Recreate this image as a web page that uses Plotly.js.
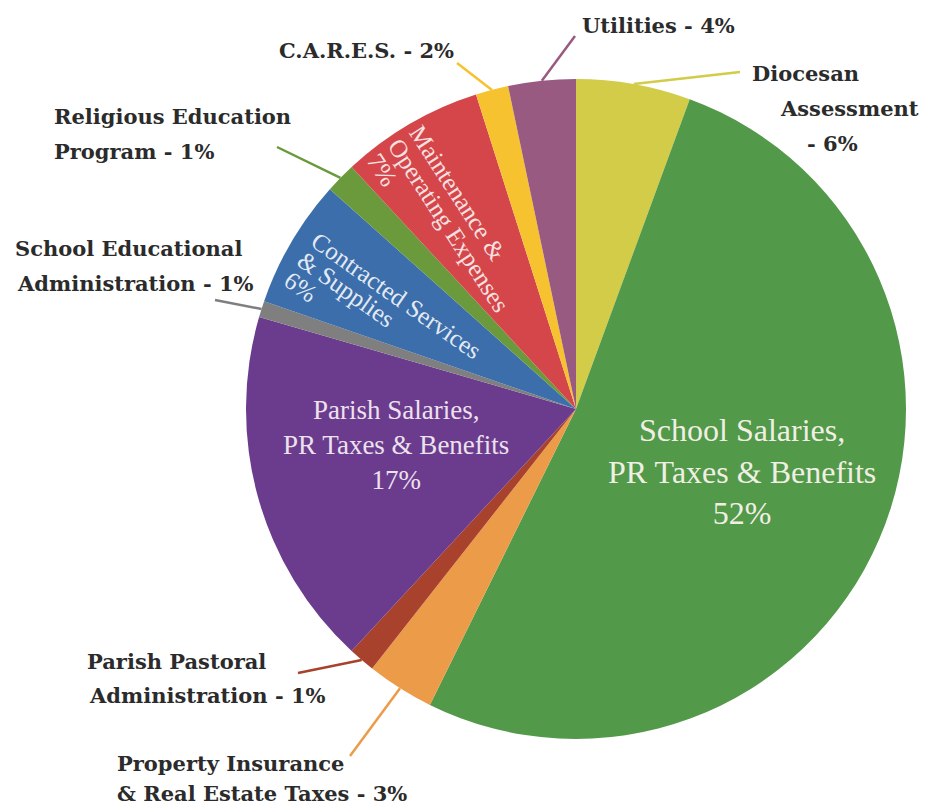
<!DOCTYPE html>
<html>
<head>
<meta charset="utf-8">
<script src="https://cdn.plot.ly/plotly-3.0.1.min.js"></script>
<style>html,body{margin:0;padding:0;background:#fff;}#chart{width:938px;height:808px;}</style>
</head>
<body>
<div id="chart"></div>
<script>
// ---- data ----
const categories = [
  "Diocesan Assessment",
  "School Salaries, PR Taxes & Benefits",
  "Property Insurance & Real Estate Taxes",
  "Parish Pastoral Administration",
  "Parish Salaries, PR Taxes & Benefits",
  "School Educational Administration",
  "Contracted Services & Supplies",
  "Religious Education Program",
  "Maintenance & Operating Expenses",
  "C.A.R.E.S.",
  "Utilities"
];
const values = [5.6, 51.7, 3.3, 1.3, 17.6, 0.8, 6.3, 1.5, 7.0, 1.6, 3.3];
const percentLabels = ["6%", "52%", "3%", "1%", "17%", "1%", "6%", "1%", "7%", "2%", "4%"];
const colors = ["#D2CC48", "#52994A", "#EC9C48", "#A8422C", "#6B3B8D", "#7F7F7F",
                "#3B6EAB", "#6A9A3C", "#D5464A", "#F7C230", "#995A81"];

// ---- geometry / layout constants ----
const W = 938, H = 808;
const CX = 576, CY = 409, R = 330;
const toPaper = (x, y) => [x / W, 1 - y / H];

const total = values.reduce((a, b) => a + b, 0);
const midAngle = [];
let cum = 0;
values.forEach(v => { midAngle.push((cum + v / 2) / total * 360); cum += v; });
function edgePoint(i, f) {
  const t = midAngle[i] * Math.PI / 180;
  return [CX + R * f * Math.sin(t), CY - R * f * Math.cos(t)];
}

const canvas = document.createElement('canvas');
const ctx = canvas.getContext('2d');
function measure(t, size, fam) { ctx.font = size + 'px ' + fam; return ctx.measureText(t).width; }

const annotations = [];
const shapes = [];
const OUT_FONT = {family: 'DejaVu Serif', size: 21, color: '#2B2B2B', weight: 'bold'};
const IN_FAM = 'Liberation Serif';

// outside labels: each line left-aligned at (x, y center)
const outsideLabels = [
  {i: 10, end: [575, 36], lines: [["Utilities - " + percentLabels[10], 580, 25]]},
  {i: 9, end: [457, 63], lines: [["C.A.R.E.S. - " + percentLabels[9], 277, 50]]},
  {i: 0, end: [740, 72], lines: [["Diocesan", 750, 74], ["Assessment", 778, 108], ["- " + percentLabels[0], 805, 143]]},
  {i: 7, end: [277, 147], lines: [["Religious Education", 52, 116], ["Program - " + percentLabels[7], 52, 152]]},
  {i: 5, end: [215, 300], lines: [["School Educational", 13, 249], ["Administration - " + percentLabels[5], 15, 283]]},
  {i: 3, end: [298, 673], lines: [["Parish Pastoral", 85, 661], ["Administration - " + percentLabels[3], 87, 695]]},
  {i: 2, end: [350, 756], lines: [["Property Insurance", 115, 763], ["& Real Estate Taxes - " + percentLabels[2], 115, 793]]}
];
outsideLabels.forEach(lab => {
  lab.lines.forEach(([t, x, y]) => {
    const p = toPaper(x, y);
    annotations.push({text: t, x: p[0], y: p[1], xref: 'paper', yref: 'paper',
      xanchor: 'left', yanchor: 'middle', showarrow: false, font: OUT_FONT});
  });
  const a = edgePoint(lab.i, 1.0), b = lab.end;
  const pa = toPaper(a[0], a[1]), pb = toPaper(b[0], b[1]);
  shapes.push({type: 'line', xref: 'paper', yref: 'paper', x0: pa[0], y0: pa[1], x1: pb[0], y1: pb[1],
    line: {color: colors[lab.i], width: 2.5}});
});

// centered inside labels
function centerBlock(text, x, y, size, color) {
  const p = toPaper(x, y);
  annotations.push({text: text, x: p[0], y: p[1], xref: 'paper', yref: 'paper', xanchor: 'center',
    yanchor: 'middle', align: 'center', showarrow: false, font: {family: IN_FAM, size: size, color: color}});
}
centerBlock("School Salaries,<br>PR Taxes & Benefits<br>" + percentLabels[1], 742, 472, 32, '#F1EFE4');
centerBlock("Parish Salaries,<br>PR Taxes & Benefits<br>" + percentLabels[4], 396, 445, 27, '#ECE2EE');

// rotated inside labels, left aligned, line by line
function rotBlock(lines, x0, y0, ang, size, spacing, color) {
  const a = ang * Math.PI / 180, ux = Math.cos(a), uy = Math.sin(a), nx = -Math.sin(a), ny = Math.cos(a);
  lines.forEach((t, k) => {
    const w = measure(t, size, IN_FAM);
    const lx = x0 + k * spacing * nx, ly = y0 + k * spacing * ny;
    const c = toPaper(lx + w / 2 * ux, ly + w / 2 * uy);
    annotations.push({text: t, x: c[0], y: c[1], xref: 'paper', yref: 'paper', xanchor: 'center',
      yanchor: 'middle', showarrow: false, textangle: ang, font: {family: IN_FAM, size: size, color: color}});
  });
}
rotBlock(["Contracted Services", "& Supplies", percentLabels[6]], 314, 238, 35, 25, 24, '#E3EAF3');
rotBlock(["Maintenance &", "Operating Expenses", percentLabels[8]], 415, 128, 57, 25, 25, '#F7E1E1');

const trace = {
  type: 'pie', labels: categories, values: values, sort: false, direction: 'clockwise', rotation: 0,
  marker: {colors: colors, line: {width: 0}}, textinfo: 'none', hoverinfo: 'label+percent',
  domain: {x: [(CX - R) / W, (CX + R) / W], y: [1 - (CY + R) / H, 1 - (CY - R) / H]}
};
const layout = {
  width: W, height: H, margin: {l: 0, r: 0, t: 0, b: 0}, showlegend: false,
  paper_bgcolor: '#FFFFFF', plot_bgcolor: '#FFFFFF', annotations: annotations, shapes: shapes
};
Plotly.newPlot('chart', [trace], layout, {displayModeBar: false, staticPlot: true});
</script>
</body>
</html>
